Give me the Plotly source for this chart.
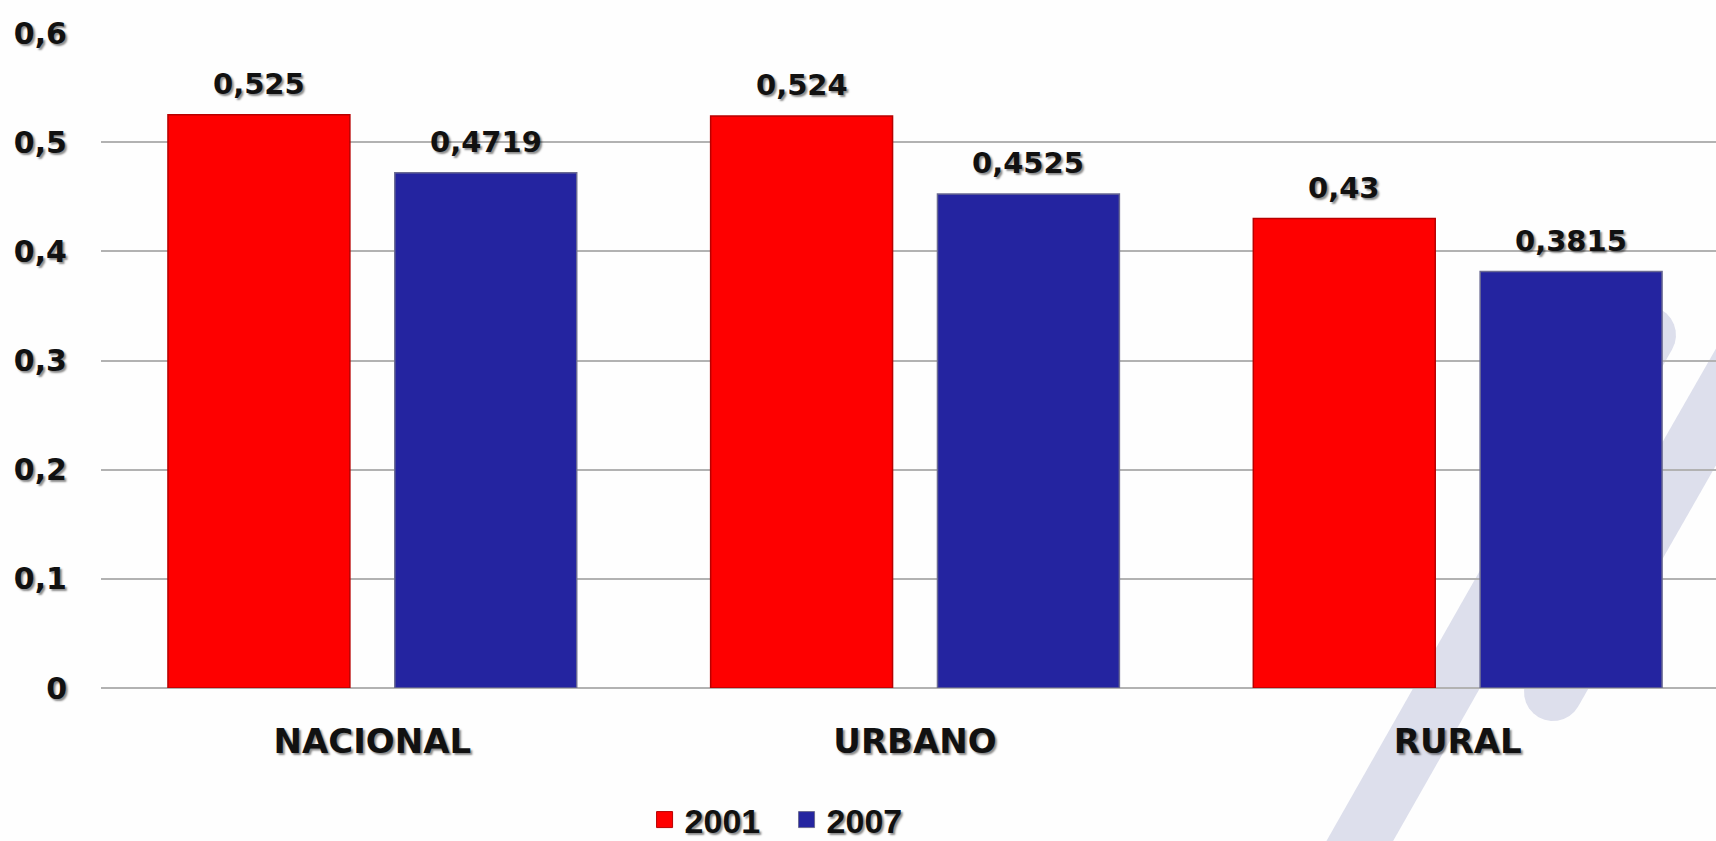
import math
import plotly.graph_objects as go

# --- data -------------------------------------------------------------
categories = ["NACIONAL", "URBANO", "RURAL"]
series_names = ["2001", "2007"]
values_2001 = [0.525, 0.524, 0.43]
values_2007 = [0.4719, 0.4525, 0.3815]
y_ticks = [0, 0.1, 0.2, 0.3, 0.4, 0.5, 0.6]

# --- page geometry ----------------------------------------------------
W, H = 1716, 841
M_L, M_R, M_T, M_B = 101, 0, 33, 153
PLOT_W = W - M_L - M_R
PLOT_H = H - M_T - M_B

FONT = "DejaVu Sans"
SHADOW = "2px 2px 2px rgba(0,0,0,0.45)"
RED = "#FE0000"
BLUE = "#2424A0"
GRID = "#B2B2B2"
MARK = "#DDDFEC"


def fmt(v):
    return f"{v:g}".replace(".", ",")


def to_paper(px, py):
    return (px - M_L) / PLOT_W, (M_T + PLOT_H - py) / PLOT_H


def capsule(p0, p1, width, n=14):
    """Closed SVG path (paper units) for a thick stroke with round ends."""
    (x0, y0), (x1, y1) = p0, p1
    ang = math.atan2(y1 - y0, x1 - x0)
    r = width / 2
    pts = []
    for i in range(n + 1):
        a = ang + math.pi / 2 + math.pi * i / n
        pts.append((x0 + r * math.cos(a), y0 + r * math.sin(a)))
    for i in range(n + 1):
        a = ang - math.pi / 2 + math.pi * i / n
        pts.append((x1 + r * math.cos(a), y1 + r * math.sin(a)))
    conv = [to_paper(x, y) for x, y in pts]
    return "M " + " L ".join(f"{x:.5f},{y:.5f}" for x, y in conv) + " Z"


fig = go.Figure()

series = [
    (series_names[0], values_2001, RED, "#B80000"),
    (series_names[1], values_2007, BLUE, "#6A6A92"),
]
for name, vals, color, edge in series:
    fig.add_trace(go.Bar(
        name=name,
        x=categories,
        y=vals,
        marker=dict(color=color, line=dict(color=edge, width=1.5)),
        legendgroup=name,
        showlegend=False,
        hoverinfo="skip",
    ))

# legend keys drawn as larger squares
for name, vals, color, edge in series:
    fig.add_trace(go.Scatter(
        name=name,
        x=[None], y=[None],
        mode="markers",
        marker=dict(symbol="square", size=16, color=color, line=dict(color=edge, width=1)),
        legendgroup=name,
        showlegend=True,
        hoverinfo="skip",
    ))

# value labels above each bar
BARGAP = 0.164
CAT_PX = PLOT_W / 2.976
half_slot = (1 - BARGAP) / 2 * CAT_PX / 2
for shift, vals in [(-half_slot, values_2001), (half_slot, values_2007)]:
    for c, v in zip(categories, vals):
        fig.add_annotation(
            x=c, y=v, xshift=shift, yshift=12,
            text=fmt(v), showarrow=False, yanchor="bottom",
            font=dict(family=FONT, size=29, color="#111111", weight="bold", shadow=SHADOW),
        )

# faint background logo strokes
shapes = [
    dict(type="path", path=capsule((1349, 860), (1647, 335), 58),
         xref="paper", yref="paper", fillcolor=MARK, line=dict(width=0), layer="below"),
    dict(type="path", path=capsule((1553, 692), (1800, 260), 58),
         xref="paper", yref="paper", fillcolor=MARK, line=dict(width=0), layer="below"),
]

fig.update_layout(
    width=W, height=H,
    margin=dict(l=M_L, r=M_R, t=M_T, b=M_B, pad=0, autoexpand=False),
    paper_bgcolor="#FEFEFE",
    plot_bgcolor="rgba(0,0,0,0)",
    barmode="group",
    bargap=BARGAP,
    bargroupgap=0.198,
    shapes=shapes,
    showlegend=True,
    legend=dict(
        orientation="h",
        x=0.4245, xanchor="center",
        y=-0.2015, yanchor="middle",
        entrywidth=97, entrywidthmode="pixels",
        itemsizing="trace",
        font=dict(family="Liberation Sans", size=34,
                  color="#111111", weight="bold", shadow=SHADOW),
        bgcolor="rgba(0,0,0,0)",
        itemclick=False, itemdoubleclick=False,
    ),
    xaxis=dict(
        range=[-0.5, 2.476],
        showgrid=False, showline=False, zeroline=False,
        ticks="", ticklabelstandoff=30,
        tickfont=dict(family=FONT, size=34, color="#111111", weight="bold", shadow=SHADOW),
        fixedrange=True,
    ),
    yaxis=dict(
        range=[0, 0.6],
        tickvals=y_ticks,
        ticktext=[fmt(v) for v in y_ticks],
        showgrid=True, gridcolor=GRID, gridwidth=2,
        zeroline=True, zerolinecolor=GRID, zerolinewidth=2,
        showline=False, ticks="", ticklabelstandoff=33,
        tickfont=dict(family=FONT, size=30, color="#111111", weight="bold", shadow=SHADOW),
        fixedrange=True,
    ),
)

fig.write_html("out.html", config={"displayModeBar": False})
